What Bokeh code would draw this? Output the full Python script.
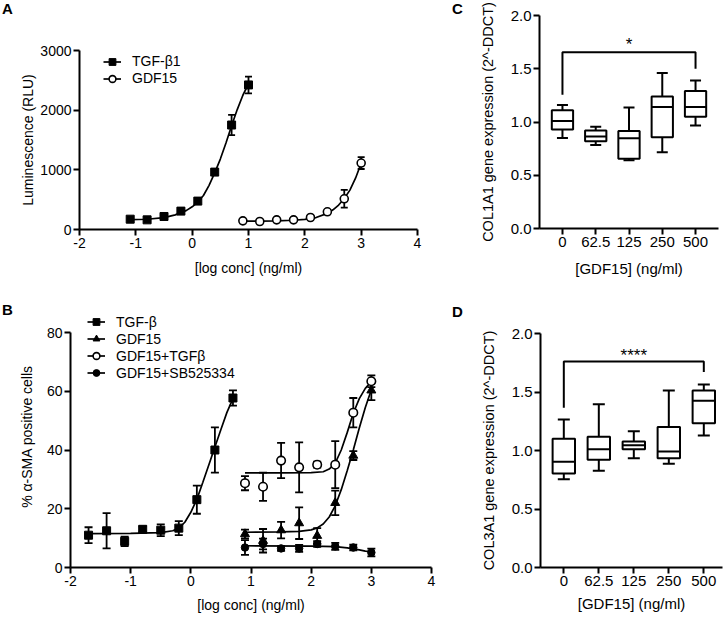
from bokeh.plotting import figure
from bokeh.models import (Range1d, FixedTicker, Legend, LegendItem, Whisker, TeeHead,
                          ColumnDataSource, PrintfTickFormatter, Div)
from bokeh.layouts import row, column
from bokeh.embed import file_html
from bokeh.resources import INLINE
from bokeh.core.properties import value

FONT = "Liberation Sans"

# ---------------- Panel letters ----------------
panel_letters = ["A", "B", "C", "D"]

# ---------------- Panel A data ----------------
a_x_ticks = [-2, -1, 0, 1, 2, 3, 4]
a_x_tick_labels = ["-2", "-1", "0", "1", "2", "3", "4"]
a_y_ticks = [0, 1000, 2000, 3000]
a_tgf_x = [-1.1, -0.8, -0.5, -0.2, 0.1, 0.4, 0.7, 1.0]
a_tgf_y = [173, 162, 218, 308, 476, 962, 1751, 2423]
a_tgf_err = [15, 15, 20, 25, 35, 50, 170, 140]
a_tgf_fit_x = [-1.1, -0.8, -0.5, -0.3, -0.1, 0.0, 0.1, 0.2, 0.3, 0.4, 0.5, 0.6, 0.7, 0.8, 0.9, 1.0]
a_tgf_fit_y = [165, 172, 200, 245, 320, 380, 460, 570, 740, 950, 1180, 1450, 1740, 2010, 2250, 2440]
a_gdf_x = [0.9, 1.2, 1.5, 1.8, 2.1, 2.4, 2.7, 3.0]
a_gdf_y = [145, 134, 162, 162, 201, 297, 515, 1114]
a_gdf_err = [10, 10, 10, 10, 15, 25, 150, 100]
a_gdf_fit_x = [0.9, 1.2, 1.5, 1.8, 2.0, 2.2, 2.4, 2.5, 2.6, 2.7, 2.8, 2.9, 3.0]
a_gdf_fit_y = [140, 142, 146, 155, 170, 200, 270, 330, 410, 520, 660, 860, 1110]

# ---------------- Panel B data ----------------
b_y_ticks = [0, 20, 40, 60, 80]
b_tgf_x = [-1.7, -1.4, -1.1, -0.8, -0.5, -0.2, 0.1, 0.4, 0.7]
b_tgf_y = [11.0, 12.5, 8.9, 13.0, 12.7, 13.4, 23.1, 40.0, 57.7]
b_tgf_err = [2.7, 6.0, 1.6, 1.0, 2.0, 2.4, 4.8, 7.7, 2.6]
b_tgf_fit_x = [-1.7, -1.0, -0.5, -0.3, -0.2, -0.1, 0.0, 0.1, 0.2, 0.3, 0.4, 0.5, 0.6, 0.7]
b_tgf_fit_y = [11.5, 11.6, 11.9, 12.5, 13.4, 15.4, 18.8, 23.2, 29.0, 35.0, 41.0, 47.0, 52.8, 57.5]
b_gx = [0.9, 1.2, 1.5, 1.8, 2.1, 2.4, 2.7, 3.0]
b_gdf_y = [11.4, 9.1, 12.7, 15.1, 10.8, 22.0, 38.1, 60.3]
b_gdf_err = [1.5, 4.0, 2.8, 5.4, 2.6, 4.2, 1.5, 3.3]
b_gdf_fit_x = [0.9, 1.5, 1.8, 2.0, 2.1, 2.2, 2.3, 2.4, 2.5, 2.6, 2.7, 2.8, 2.9, 3.0]
b_gdf_fit_y = [12.0, 12.1, 12.3, 12.8, 13.5, 14.8, 17.2, 21.0, 26.5, 33.0, 40.0, 47.5, 54.5, 60.5]
b_gt_y = [28.7, 27.5, 36.4, 34.1, 35.0, 35.0, 52.7, 63.4]
b_gt_err = [2.4, 4.8, 6.0, 8.5, 1.0, 8.0, 5.0, 2.0]
b_gt_fit_x = [0.9, 1.5, 2.0, 2.2, 2.3, 2.4, 2.5, 2.6, 2.7, 2.8, 2.9, 3.0]
b_gt_fit_y = [32.2, 32.2, 32.3, 32.6, 33.5, 35.5, 40.0, 46.0, 52.5, 57.5, 61.0, 63.3]
b_gs_y = [6.8, 8.0, 6.5, 6.5, 8.0, 7.2, 6.8, 5.1]
b_gs_err = [2.5, 1.8, 0.8, 1.2, 1.0, 1.2, 1.0, 1.3]
b_gs_fit_x = [0.9, 2.0, 2.4, 2.6, 2.8, 2.9, 3.0]
b_gs_fit_y = [7.4, 7.3, 7.1, 6.7, 6.0, 5.6, 5.4]

# ---------------- Panel C / D data ----------------
gdf_cats = ["0", "62.5", "125", "250", "500"]
box_y_ticks = [0.0, 0.5, 1.0, 1.5, 2.0]
c_min = [0.85, 0.785, 0.64, 0.715, 0.966]
c_q1 = [0.93, 0.82, 0.656, 0.856, 1.05]
c_med = [1.01, 0.865, 0.847, 1.14, 1.14]
c_q3 = [1.11, 0.92, 0.916, 1.24, 1.29]
c_max = [1.16, 0.956, 1.137, 1.46, 1.39]
c_sig_y = [1.255, 1.655, 1.655, 1.50]
c_sig_text = "*"
c_sig_text_y = 1.73

d_min = [0.755, 0.826, 0.934, 0.886, 1.128]
d_q1 = [0.803, 0.92, 1.011, 0.934, 1.233]
d_med = [0.903, 1.011, 1.045, 0.991, 1.425]
d_q3 = [1.10, 1.117, 1.077, 1.20, 1.513]
d_max = [1.265, 1.396, 1.165, 1.513, 1.564]
d_sig_y = [1.365, 1.76, 1.76, 1.67]
d_sig_text = "****"
d_sig_text_y = 1.815


def style(p, fs, xstand, ystand, lfs=None):
    p.outline_line_color = None
    p.xgrid.visible = False
    p.ygrid.visible = False
    for ax in (p.xaxis[0], p.yaxis[0]):
        ax.axis_line_width = 2
        ax.axis_line_color = "black"
        ax.major_tick_line_width = 2
        ax.major_tick_line_color = "black"
        ax.major_tick_out = 6
        ax.major_tick_in = 0
        ax.minor_tick_line_color = None
        ax.major_label_text_font = FONT
        ax.major_label_text_font_size = fs
        ax.major_label_text_color = "black"
        ax.axis_label_text_font = FONT
        ax.axis_label_text_font_size = fs
        ax.axis_label_text_font_style = "normal"
        ax.axis_label_text_color = "black"
        ax.major_label_standoff = 2
    if lfs:
        p.yaxis[0].axis_label_text_font_size = lfs
    p.xaxis[0].axis_label_standoff = xstand
    p.yaxis[0].axis_label_standoff = ystand


def letter_div(txt, width, height, pad_left, pad_top):
    html = ('<div style="font-family:\'%s\';font-weight:bold;font-size:15px;color:black;'
            'line-height:17px;padding-left:%dpx;padding-top:%dpx;margin:0">%s</div>'
            % (FONT, pad_left, pad_top, txt))
    return Div(text=html, width=width, height=height, margin=0)


def errbars(p, xs, ys, es, head):
    src = ColumnDataSource(dict(x=xs, lo=[y - e for y, e in zip(ys, es)],
                                hi=[y + e for y, e in zip(ys, es)]))
    p.add_layout(Whisker(source=src, base="x", upper="hi", lower="lo", line_width=1.8,
                         line_color="black",
                         upper_head=TeeHead(size=head, line_width=1.8, line_color="black"),
                         lower_head=TeeHead(size=head, line_width=1.8, line_color="black")))


def legend(p, items, loc):
    lg = Legend(items=items, location=loc, border_line_color=None, background_fill_alpha=0,
                padding=0, margin=0, spacing=0, glyph_width=18, glyph_height=17,
                label_height=17, label_standoff=11, label_text_font=FONT,
                label_text_font_size="14px", label_text_color="black")
    p.add_layout(lg)


# ================= Panel A =================
pA = figure(width=422, height=296, x_range=Range1d(-2, 4), y_range=Range1d(0, 3000),
            output_backend="svg", toolbar_location=None,
            min_border_left=65, min_border_right=19, min_border_top=50, min_border_bottom=67)
style(pA, "14px", 9, 1)
pA.xaxis[0].ticker = FixedTicker(ticks=a_x_ticks)
pA.xaxis[0].major_label_overrides = dict(zip(a_x_ticks, a_x_tick_labels))
pA.yaxis[0].ticker = FixedTicker(ticks=a_y_ticks)
pA.xaxis[0].axis_label = "[log conc] (ng/ml)"
pA.yaxis[0].axis_label = "Luminescence (RLU)"

errbars(pA, a_tgf_x, a_tgf_y, a_tgf_err, 7)
errbars(pA, a_gdf_x, a_gdf_y, a_gdf_err, 7)
rA1c = pA.line(a_tgf_fit_x, a_tgf_fit_y, line_color="black", line_width=1.7)
rA1p = pA.scatter(a_tgf_x, a_tgf_y, marker="square", size=8, fill_color="black", line_color="black")
rA2c = pA.line(a_gdf_fit_x, a_gdf_fit_y, line_color="black", line_width=1.7)
rA2p = pA.scatter(a_gdf_x, a_gdf_y, marker="circle", size=8, fill_color="white",
                  line_color="black", line_width=1.6)
legend(pA, [LegendItem(label="TGF-β1", renderers=[rA1c, rA1p]),
            LegendItem(label="GDF15", renderers=[rA2c, rA2p])], (24, 142.5))

# ================= Panel B =================
b_top_pad = (332 - 305) / 2.9375
pB = figure(width=422, height=320, x_range=Range1d(-2, 4),
            y_range=Range1d(0, b_y_ticks[-1] + b_top_pad),
            output_backend="svg", toolbar_location=None,
            min_border_left=56, min_border_right=5, min_border_top=9, min_border_bottom=49)
style(pB, "14px", 8, 9)
pB.yaxis[0].bounds = (b_y_ticks[0], b_y_ticks[-1])
pB.xaxis[0].ticker = FixedTicker(ticks=a_x_ticks)
pB.xaxis[0].major_label_overrides = dict(zip(a_x_ticks, a_x_tick_labels))
pB.yaxis[0].ticker = FixedTicker(ticks=b_y_ticks)
pB.xaxis[0].axis_label = "[log conc] (ng/ml)"
pB.yaxis[0].axis_label = "% α-SMA positive cells"

errbars(pB, b_tgf_x, b_tgf_y, b_tgf_err, 8)
errbars(pB, b_gx, b_gdf_y, b_gdf_err, 8)
errbars(pB, b_gx, b_gt_y, b_gt_err, 8)
errbars(pB, b_gx, b_gs_y, b_gs_err, 8)
rB1c = pB.line(b_tgf_fit_x, b_tgf_fit_y, line_color="black", line_width=1.7)
rB1p = pB.scatter(b_tgf_x, b_tgf_y, marker="square", size=8, fill_color="black", line_color="black")
rB2c = pB.line(b_gdf_fit_x, b_gdf_fit_y, line_color="black", line_width=1.7)
rB2p = pB.scatter(b_gx, b_gdf_y, marker="triangle", size=9, fill_color="black", line_color="black")
rB3c = pB.line(b_gt_fit_x, b_gt_fit_y, line_color="black", line_width=1.7)
rB3p = pB.scatter(b_gx, b_gt_y, marker="circle", size=8.5, fill_color="white",
                  line_color="black", line_width=1.6)
rB4c = pB.line(b_gs_fit_x, b_gs_fit_y, line_color="black", line_width=1.7)
rB4p = pB.scatter(b_gx, b_gs_y, marker="circle", size=7.5, fill_color="black", line_color="black")
legend(pB, [LegendItem(label="TGF-β", renderers=[rB1c, rB1p]),
            LegendItem(label="GDF15", renderers=[rB2c, rB2p]),
            LegendItem(label="GDF15+TGFβ", renderers=[rB3c, rB3p]),
            LegendItem(label="GDF15+SB525334", renderers=[rB4c, rB4p])], (17, 185.6))


# ================= Box panels =================
def boxpanel(height, borders, xr, mins, q1, med, q3, maxs, sig_y, sig_text, sig_text_y,
             ylabel, head):
    p = figure(width=260, height=height, x_range=Range1d(*xr), y_range=Range1d(0, 2.0),
               output_backend="svg", toolbar_location=None,
               min_border_left=borders[0], min_border_right=borders[1],
               min_border_top=borders[2], min_border_bottom=borders[3])
    style(p, "15px", borders[4], 12, "14.5px")
    pos = list(range(len(gdf_cats)))
    p.xaxis[0].ticker = FixedTicker(ticks=pos)
    p.xaxis[0].major_label_overrides = dict(zip(pos, gdf_cats))
    p.yaxis[0].ticker = FixedTicker(ticks=box_y_ticks)
    p.yaxis[0].formatter = PrintfTickFormatter(format="%.1f")
    p.xaxis[0].axis_label = "[GDF15] (ng/ml)"
    p.yaxis[0].axis_label = ylabel
    bw = 0.64
    up = ColumnDataSource(dict(x=pos, lo=q3, hi=maxs))
    dn = ColumnDataSource(dict(x=pos, lo=mins, hi=q1))
    p.add_layout(Whisker(source=up, base="x", lower="lo", upper="hi", line_width=2,
                         line_color="black", lower_head=None,
                         upper_head=TeeHead(size=head, line_width=2, line_color="black")))
    p.add_layout(Whisker(source=dn, base="x", lower="lo", upper="hi", line_width=2,
                         line_color="black", upper_head=None,
                         lower_head=TeeHead(size=head, line_width=2, line_color="black")))
    p.vbar(x=pos, top=q3, bottom=q1, width=bw, fill_color="white", line_color="black",
           line_width=2)
    p.segment(x0=[x - bw / 2 for x in pos], x1=[x + bw / 2 for x in pos], y0=med, y1=med,
              line_color="black", line_width=2)
    p.line([pos[0], pos[0], pos[-1], pos[-1]], sig_y, line_color="black", line_width=2)
    p.text(x=[pos[2]], y=[sig_text_y], text=[sig_text], text_font=value(FONT),
           text_font_size="17px", text_align="center", text_baseline="middle",
           text_color="black")
    return p


pC = boxpanel(296, (73, 8, 15, 68, 10), (-0.69, 4.69), c_min, c_q1, c_med, c_q3, c_max,
              c_sig_y, c_sig_text, c_sig_text_y, "COL1A1 gene expression (2^-DDCT)", 11)
pD = boxpanel(320, (74, 4, 37, 49, 6), (-0.666, 4.534), d_min, d_q1, d_med, d_q3, d_max,
              d_sig_y, d_sig_text, d_sig_text_y, "COL3A1 gene expression (2^-DDCT)", 12)

divA = letter_div(panel_letters[0], 14, 296, 2, 0)
divB = letter_div(panel_letters[1], 14, 320, 2, 5)
divC = letter_div(panel_letters[2], 30, 296, 16, 0)
divD = letter_div(panel_letters[3], 30, 320, 16, 7)

layout = row(column(row(divA, pA), row(divB, pB)),
             column(row(divC, pC), row(divD, pD)))
open("out.html", "w").write(file_html(layout, INLINE))
